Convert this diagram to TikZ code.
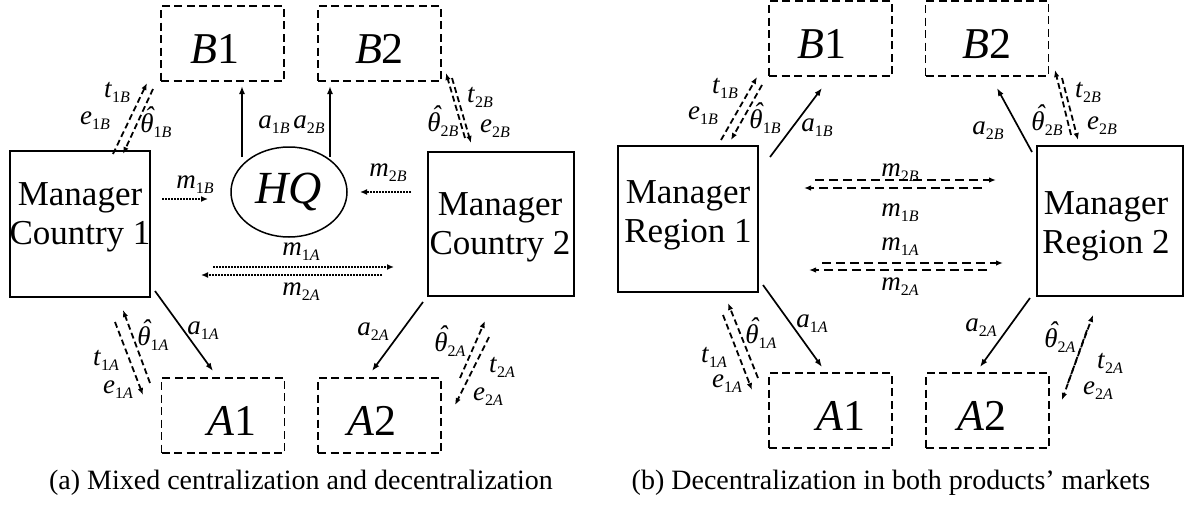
\documentclass[tikz,border=0pt]{standalone}
\usepackage{fontspec}
\setmainfont{Liberation Serif}
\usetikzlibrary{shapes.geometric,arrows.meta}
\newcommand{\vr}[3]{\textit{#1}\raisebox{-5pt}{\fontsize{16}{16}\selectfont #2\textit{#3}}}
\newcommand{\thh}{\textit{\accent"02C6 θ}}
\newcommand{\vt}[2]{\thh\raisebox{-5pt}{\fontsize{16}{16}\selectfont #1\textit{#2}}}
\tikzset{
  mkt/.style={draw, line width=1.3pt, dash pattern=on 8pt off 4.5pt, minimum width=123pt, minimum height=75pt, inner sep=0pt, text height=40pt, text depth=0pt, font=\fontsize{44}{44}\selectfont},
  mbox/.style={draw, line width=1.7pt, inner sep=0pt},
  mtext/.style={font=\fontsize{35}{39}\selectfont, align=center, inner sep=0pt},
  lab/.style={font=\fontsize{27}{27}\selectfont, inner sep=0pt},
  captxt/.style={font=\fontsize{28}{28}\selectfont, inner sep=0pt},
  act/.style={line width=1.7pt, -{Latex[length=8pt,width=6pt]}},
  dotarr/.style={line width=1.8pt, dash pattern=on 1.8pt off 1.2pt, -{Latex[length=7pt,width=6pt]}},
  rep/.style={line width=1.8pt, dash pattern=on 6pt off 3.5pt, -{Latex[length=7pt,width=5.5pt]}},
  msgb/.style={line width=1.8pt, dash pattern=on 9pt off 5pt, -{Latex[length=7pt,width=5.5pt]}},
}
\begin{document}
\begin{tikzpicture}[x=1pt,y=-1pt]
\useasboundingbox (0,0) rectangle (1187,509);
% ---------------- panel (a) ----------------
\node[mkt] (B1a) at (222.5,43.5) {\hspace*{-15pt}\textit{B}1};
\node[mkt] (B2a) at (379.5,43.5) {\textit{B}2};
\node[mkt] (A1a) at (223,415.5) {\textit{A}1\hspace*{-18pt}};
\node[mkt] (A2a) at (379.5,415.5) {\hspace*{-15pt}\textit{A}2};
\node[mbox, minimum width=140pt, minimum height=146pt] (M1a) at (80,224) {};
\node[mbox, minimum width=146pt, minimum height=144pt] (M2a) at (501,224) {};
\node[mtext] (M1at) at (80,217) {Manager\\Country 1};
\node[mtext] (M2at) at (500,227) {Manager\\Country 2};
\node[draw, ellipse, line width=1.5pt, minimum width=116pt, minimum height=90pt, inner sep=0pt, font=\fontsize{46}{46}\selectfont\itshape] (HQ) at (289,192) {HQ};

\coordinate (a1Bs) at (242,157); \coordinate (a1Be) at (242,86);
\coordinate (a2Bs) at (330,157); \coordinate (a2Be) at (330,86);
\draw[act] (a1Bs) -- (a1Be);
\draw[act] (a2Bs) -- (a2Be);
\node[lab] (la1Ba) at (274,125) {\vr{a}{1}{B}};
\node[lab] (la2Ba) at (309,125) {\vr{a}{2}{B}};

\coordinate (m1Bs) at (162,199); \coordinate (m1Be) at (208,199);
\coordinate (m2Bs) at (411,192); \coordinate (m2Be) at (360,192);
\coordinate (m1As) at (213,267); \coordinate (m1Ae) at (394,267);
\coordinate (m2As) at (382,275); \coordinate (m2Ae) at (201,275);
\draw[dotarr] (m1Bs) -- (m1Be);
\draw[dotarr] (m2Bs) -- (m2Be);
\draw[dotarr] (m1As) -- (m1Ae);
\draw[dotarr] (m2As) -- (m2Ae);
\node[lab] (lm1Ba) at (195,185) {\vr{m}{1}{B}};
\node[lab] (lm2Ba) at (388,173) {\vr{m}{2}{B}};
\node[lab] (lm1Aa) at (301,252) {\vr{m}{1}{A}};
\node[lab] (lm2Aa) at (301,292) {\vr{m}{2}{A}};

\coordinate (a1As) at (155,291); \coordinate (a1Ae) at (213,371);
\coordinate (a2As) at (423,302); \coordinate (a2Ae) at (372,371);
\draw[act] (a1As) -- (a1Ae);
\draw[act] (a2As) -- (a2Ae);
\node[lab] (la1Aa) at (203,331) {\vr{a}{1}{A}};
\node[lab] (la2Aa) at (373,332) {\vr{a}{2}{A}};

% report / transfer arrows (a)
\coordinate (r1) at (113,154); \coordinate (r2) at (147,83);
\coordinate (r3) at (153,89);  \coordinate (r4) at (123,154);
\draw[rep] (r1) -- (r2); \draw[rep] (r3) -- (r4);
\node[lab] (lt1Ba) at (117,92) {\vr{t}{1}{B}};
\node[lab] (le1Ba) at (95,121) {\vr{e}{1}{B}};
\node[lab] (lh1Ba) at (156,122) {\vt{1}{B}};

\coordinate (r5) at (465,138); \coordinate (r6) at (446,73);
\coordinate (r7) at (452,78);  \coordinate (r8) at (471,143);
\draw[rep] (r5) -- (r6); \draw[rep] (r7) -- (r8);
\node[lab] (lt2Ba) at (480,97) {\vr{t}{2}{B}};
\node[lab] (le2Ba) at (495,129) {\vr{e}{2}{B}};
\node[lab] (lh2Ba) at (443,121) {\vt{2}{B}};

\coordinate (r9) at (150,383);  \coordinate (r10) at (123,310);
\coordinate (r11) at (115,322); \coordinate (r12) at (143,395);
\draw[rep] (r9) -- (r10); \draw[rep] (r11) -- (r12);
\node[lab] (lh1Aa) at (153,335) {\vt{1}{A}};
\node[lab] (lt1Aa) at (106,360) {\vr{t}{1}{A}};
\node[lab] (le1Aa) at (118,390) {\vr{e}{1}{A}};

\coordinate (r13) at (460,378); \coordinate (r14) at (485,321);
\coordinate (r15) at (489,337); \coordinate (r16) at (455,405);
\draw[rep] (r13) -- (r14); \draw[rep] (r15) -- (r16);
\node[lab] (lh2Aa) at (450,341) {\vt{2}{A}};
\node[lab] (lt2Aa) at (502,367) {\vr{t}{2}{A}};
\node[lab] (le2Aa) at (488,397) {\vr{e}{2}{A}};

\node[captxt] (capa) at (301,483) {(a) Mixed centralization and decentralization};

% ---------------- panel (b) ----------------
\node[mkt] (B1b) at (830.5,38.5) {\hspace*{-17pt}\textit{B}1};
\node[mkt] (B2b) at (987,38.5) {\textit{B}2};
\node[mkt] (A1b) at (830.5,410.5) {\textit{A}1\hspace*{-21pt}};
\node[mkt] (A2b) at (987.5,410.5) {\hspace*{-11pt}\textit{A}2};
\node[mbox, minimum width=140pt, minimum height=146pt] (M1b) at (688,219) {};
\node[mbox, minimum width=146pt, minimum height=150pt] (M2b) at (1110,221) {};
\node[mtext] (M1bt) at (688,215) {Manager\\Region 1};
\node[mtext] (M2bt) at (1106,226) {Manager\\Region 2};

\coordinate (b1) at (770,157);  \coordinate (b2) at (822,88);
\coordinate (b3) at (1032,152); \coordinate (b4) at (997,88);
\coordinate (b5) at (763,285);  \coordinate (b6) at (822,367);
\coordinate (b7) at (1030,298); \coordinate (b8) at (980,367);
\draw[act] (b1) -- (b2);
\draw[act] (b3) -- (b4);
\draw[act] (b5) -- (b6);
\draw[act] (b7) -- (b8);
\node[lab] (la1Bb) at (817,128) {\vr{a}{1}{B}};
\node[lab] (la2Bb) at (988,131) {\vr{a}{2}{B}};
\node[lab] (la1Ab) at (812,324) {\vr{a}{1}{A}};
\node[lab] (la2Ab) at (981,328) {\vr{a}{2}{A}};

\coordinate (c1) at (815,180); \coordinate (c2) at (996,180);
\coordinate (c3) at (982,188); \coordinate (c4) at (804,188);
\coordinate (c5) at (822,263); \coordinate (c6) at (1003,263);
\coordinate (c7) at (987,270); \coordinate (c8) at (809,270);
\draw[msgb] (c1) -- (c2);
\draw[msgb] (c3) -- (c4);
\draw[msgb] (c5) -- (c6);
\draw[msgb] (c7) -- (c8);
\node[lab] (lm2Bb) at (900,173) {\vr{m}{2}{B}};
\node[lab] (lm1Bb) at (900,213) {\vr{m}{1}{B}};
\node[lab] (lm1Ab) at (900,247) {\vr{m}{1}{A}};
\node[lab] (lm2Ab) at (900,287) {\vr{m}{2}{A}};

\coordinate (d1) at (721,140); \coordinate (d2) at (757,77);
\coordinate (d3) at (762,85);  \coordinate (d4) at (731,140);
\draw[rep] (d1) -- (d2); \draw[rep] (d3) -- (d4);
\node[lab] (lt1Bb) at (725,88) {\vr{t}{1}{B}};
\node[lab] (le1Bb) at (703,116) {\vr{e}{1}{B}};
\node[lab] (lh1Bb) at (765,118) {\vt{1}{B}};

\coordinate (d5) at (1071,135); \coordinate (d6) at (1055,70);
\coordinate (d7) at (1062,78);  \coordinate (d8) at (1078,140);
\draw[rep] (d5) -- (d6); \draw[rep] (d7) -- (d8);
\node[lab] (lt2Bb) at (1088,92) {\vr{t}{2}{B}};
\node[lab] (le2Bb) at (1102,126) {\vr{e}{2}{B}};
\node[lab] (lh2Bb) at (1047,120) {\vt{2}{B}};

\coordinate (d9) at (758,378);  \coordinate (d10) at (728,303);
\coordinate (d11) at (723,315); \coordinate (d12) at (752,390);
\draw[rep] (d9) -- (d10); \draw[rep] (d11) -- (d12);
\node[lab] (lh1Ab) at (761,333) {\vt{1}{A}};
\node[lab] (lt1Ab) at (714,357) {\vr{t}{1}{A}};
\node[lab] (le1Ab) at (727,384) {\vr{e}{1}{A}};

\coordinate (d13) at (1068,383); \coordinate (d14) at (1093,315);
\coordinate (d15) at (1087,330); \coordinate (d16) at (1062,400);
\draw[rep] (d13) -- (d14); \draw[rep] (d15) -- (d16);
\node[lab] (lh2Ab) at (1060,337) {\vt{2}{A}};
\node[lab] (lt2Ab) at (1110,363) {\vr{t}{2}{A}};
\node[lab] (le2Ab) at (1098,391) {\vr{e}{2}{A}};

\node[captxt] (capb) at (891,483) {(b) Decentralization in both products’ markets};
\end{tikzpicture}
\end{document}
